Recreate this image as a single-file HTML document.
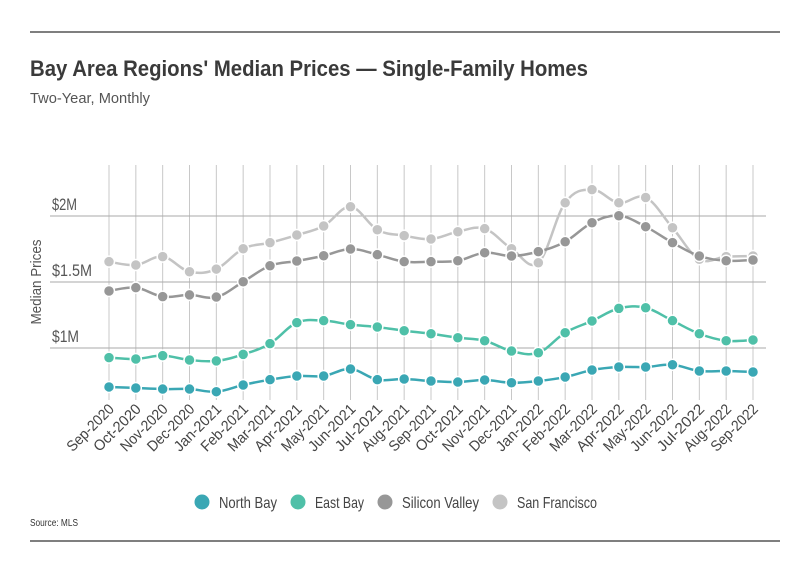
<!DOCTYPE html>
<html><head><meta charset="utf-8"><style>
body{margin:0;background:#fff;}
svg text{font-family:"Liberation Sans Narrow","Liberation Sans",sans-serif;}
</style></head><body>
<svg width="801" height="575" viewBox="0 0 801 575" xmlns="http://www.w3.org/2000/svg">
<line x1="30" y1="32" x2="780" y2="32" stroke="#333" stroke-width="1.2"/>
<line x1="30" y1="541" x2="780" y2="541" stroke="#333" stroke-width="1.2"/>
<text x="30" y="76" font-size="22" font-weight="bold" fill="#3a3a3a" textLength="558" lengthAdjust="spacingAndGlyphs">Bay Area Regions' Median Prices — Single-Family Homes</text>
<text x="30" y="103" font-size="15" fill="#555" textLength="120" lengthAdjust="spacingAndGlyphs">Two-Year, Monthly</text>
<text transform="translate(41,282) rotate(-90)" text-anchor="middle" font-size="15" fill="#555" textLength="85" lengthAdjust="spacingAndGlyphs">Median Prices</text>
<g id="grid"></g><g id="series"></g><g id="xlabels"></g>
<g id="legend"></g>
<text x="30" y="526" font-size="10" fill="#333" textLength="48" lengthAdjust="spacingAndGlyphs">Source:  MLS</text>
</svg>
<script>
const months=["Sep-2020","Oct-2020","Nov-2020","Dec-2020","Jan-2021","Feb-2021","Mar-2021","Apr-2021","May-2021","Jun-2021","Jul-2021","Aug-2021","Sep-2021","Oct-2021","Nov-2021","Dec-2021","Jan-2022","Feb-2022","Mar-2022","Apr-2022","May-2022","Jun-2022","Jul-2022","Aug-2022","Sep-2022"];
const northBay=[0.705,0.697,0.689,0.689,0.669,0.72,0.76,0.788,0.788,0.841,0.76,0.765,0.75,0.742,0.758,0.737,0.75,0.78,0.833,0.856,0.856,0.873,0.826,0.826,0.818];
const eastBay=[0.927,0.917,0.942,0.909,0.902,0.952,1.033,1.192,1.207,1.177,1.159,1.131,1.108,1.078,1.055,0.977,0.964,1.116,1.205,1.30,1.305,1.207,1.108,1.055,1.061];
const siliconValley=[1.432,1.457,1.389,1.402,1.386,1.502,1.623,1.659,1.699,1.75,1.707,1.654,1.654,1.661,1.722,1.697,1.73,1.805,1.949,2.002,1.919,1.798,1.697,1.661,1.667];
const sanFrancisco=[1.654,1.629,1.692,1.578,1.598,1.752,1.798,1.856,1.924,2.07,1.896,1.851,1.826,1.881,1.904,1.752,1.646,2.10,2.20,2.10,2.14,1.911,1.672,1.692,1.697];
const yTicks=[1,1.5,2];
const yTickLabels=["$1M","$1.5M","$2M"];
const seriesNames=["North Bay","East Bay","Silicon Valley","San Francisco"];

const NS="http://www.w3.org/2000/svg";
const X0=109,X1=753;
function xs(i){return X0+i*(X1-X0)/(months.length-1);}
function ys(v){return 348-(v-1)*132;}
function mk(t,a,p){const e=document.createElementNS(NS,t);for(const k in a)e.setAttribute(k,a[k]);p.appendChild(e);return e;}
const grid=document.getElementById('grid');
months.forEach((m,i)=>{const l=mk('line',{x1:xs(i),y1:165,x2:xs(i),y2:400,stroke:'#c8c8c8','stroke-width':1},grid);

});
yTicks.forEach((v,i)=>{const l=mk('line',{x1:50,y1:ys(v),x2:766,y2:ys(v),stroke:'#aaa','stroke-width':1},grid);


const t=mk('text',{x:52,y:ys(v)-6,'font-size':17,fill:'#555',textLength:(i===1?40:(i===0?27:25)),lengthAdjust:'spacingAndGlyphs'},grid);t.textContent=yTickLabels[i];

});
const xl=document.getElementById('xlabels');
months.forEach((m,i)=>{const t=mk('text',{transform:`translate(${xs(i)+6},${410}) rotate(-45)`,'text-anchor':'end','font-size':15,fill:'#444',textLength:60,lengthAdjust:'spacingAndGlyphs'},xl);t.textContent=m;

});
function path(pts){let d=`M${pts[0][0]},${pts[0][1]}`;const k=0.18;
for(let i=0;i<pts.length-1;i++){const p0=pts[Math.max(i-1,0)],p1=pts[i],p2=pts[i+1],p3=pts[Math.min(i+2,pts.length-1)];
d+=` C${p1[0]+(p2[0]-p0[0])*k},${p1[1]+(p2[1]-p0[1])*k} ${p2[0]-(p3[0]-p1[0])*k},${p2[1]-(p3[1]-p1[1])*k} ${p2[0]},${p2[1]}`;}return d;}
const sg=document.getElementById('series');
const all=[[sanFrancisco,'#c4c4c4','san-francisco'],[siliconValley,'#979797','silicon-valley'],[eastBay,'#4fc0a8','east-bay'],[northBay,'#3aa7b4','north-bay']];
all.forEach(([data,col,name])=>{const g=mk('g',{},sg);


const pts=data.map((v,i)=>[xs(i),ys(v)]);
const p=mk('path',{d:path(pts),fill:'none',stroke:col,'stroke-width':2.5},g);


pts.forEach(q=>{const c=mk('circle',{cx:q[0],cy:q[1],r:5.5,fill:col,stroke:'#fff','stroke-width':1.5},g);

});});
const lg=document.getElementById('legend');
const lcols=['#3aa7b4','#4fc0a8','#979797','#c4c4c4'];
const lx=[202,298,385,500];
const lw=[58,49,77,80];
seriesNames.forEach((n,i)=>{const c=mk('circle',{cx:lx[i],cy:502,r:7.5,fill:lcols[i]},lg);


const t=mk('text',{x:lx[i]+17,y:508,'font-size':16,fill:'#444',textLength:lw[i],lengthAdjust:'spacingAndGlyphs'},lg);t.textContent=n;

});
</script>
</body></html>
